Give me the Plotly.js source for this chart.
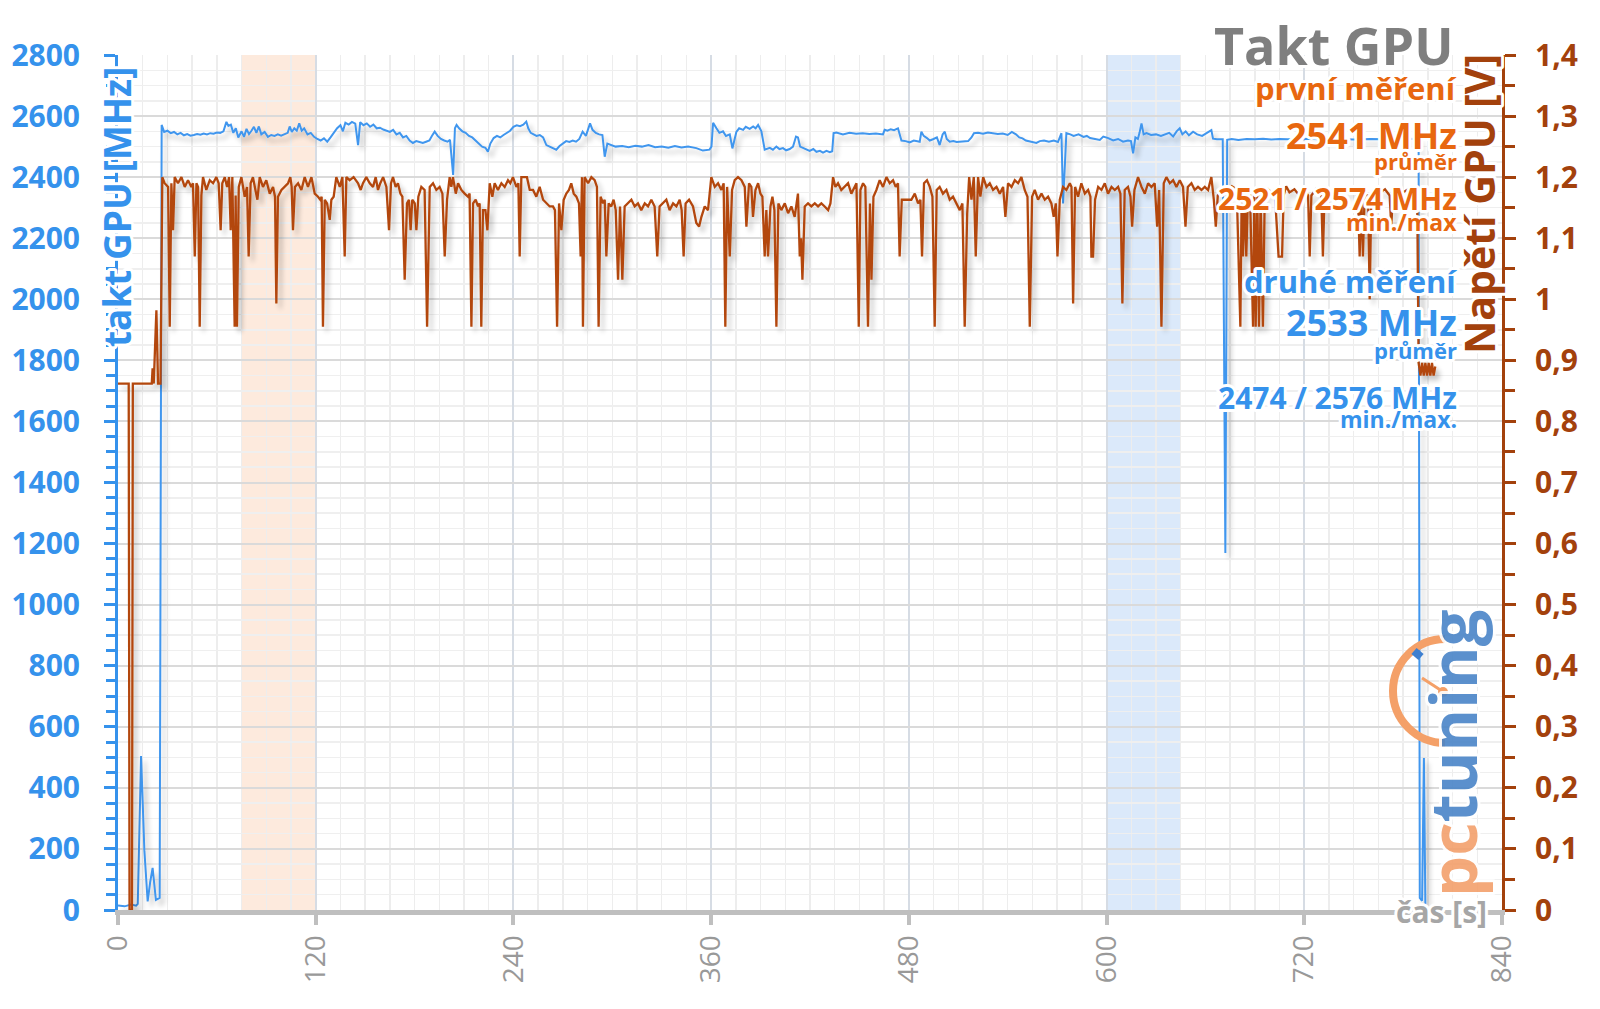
<!DOCTYPE html>
<html>
<head>
<meta charset="utf-8">
<script src="https://cdn.plot.ly/plotly-3.0.1.min.js"></script>
<style>
html,body{margin:0;padding:0;background:#fff;}
#chart{width:1600px;height:1009px;}
.annotation-text{paint-order:stroke;stroke:#ffffff;stroke-width:6px;stroke-linejoin:round;}
.scatterlayer .js-line{filter:url(#lineShadow);}
</style>
</head>
<body>
<svg width="0" height="0" style="position:absolute">
  <defs>
    <filter id="lineShadow" filterUnits="userSpaceOnUse" x="-200" y="-200" width="2200" height="1400">
      <feGaussianBlur in="SourceAlpha" stdDeviation="2.5"/>
      <feOffset dx="4" dy="5" result="ob"/>
      <feComponentTransfer><feFuncA type="linear" slope="0.22"/></feComponentTransfer>
      <feMerge><feMergeNode/><feMergeNode in="SourceGraphic"/></feMerge>
    </filter>
  </defs>
</svg>
<div id="chart"></div>
<script>
// ---- data: second measurement GPU clock [MHz] (left axis) ----
const clockTime = [
0,4,8,11,12,14,16,18,19.5,21,
23,25.3,26.5,28,30,32,34,36,38,40,
42,44,46,48,50,52,54,56,58,60,
62,64,65.8,67,68.5,70,71.5,73,75,76.5,
78,79.5,81,82.5,84,85.5,87,89,91,93,
95,97,99,101,103,104.2,105.5,107,108.5,110,
111.5,113,115,117,119,121,123,125,127,129,
131,133,135,136.5,138,140,142,144,145.7,147,
149,151,153,155,157,159,161,163,165,167,
169,171,173,175,177,179,181,183,185,187,
189,190.5,192.2,194,196,198,200,201.5,203.4,204.5,
205.5,207,209,211,213,215,217,219,221,223,
224.5,226,228,230,232,234,236,238,240,242,
244,246,247.8,249,250.5,252,254,256,258,260,
262,264,266,268,270,272,274,276,278,280,
282,284,286.5,288,290,292,294,295.4,297,299,
302,306,310,314,318,322,326,330,334,338,
342,346,351,355,359,360.2,361.2,363.2,365,367.2,
369,371.3,372.9,375.3,377,379.4,381,383.4,385.5,387,
388.5,390.5,392.5,395.6,397.5,399.6,401.5,403.6,405.5,407.7,
409.7,411.5,412.7,414,415.8,418,419.8,422,423.9,426,
427.9,430,432,433.5,434.3,436,440,444,448,452,
456,460,464.3,465.3,467,469,471,473.4,475.5,478,
480.5,483,486.6,487.6,489,491,492.7,495,497,498.7,
500.5,501.8,503,504.8,507,509,511,513,516,518,
519.5,522,525,528,531,534,537,540,542.5,545,
547,549,551,553,555,557.4,559.5,562,565,568,
570.5,572.6,573.6,575.6,578,580,583,586,588,590,
593,595.9,598,601,604,607,610,613,614.8,616.1,
617.5,619,620,621.2,622.5,624.2,627,630,633,636,
638,640.4,642.5,644.4,646,648,650,652.5,655,658,
661,663.6,664.6,667,670.5,672.1,673.2,676,680,685,
690,695,700,705,710,720,730,740,750,760,
770,780,789.4,790.1,791.5,792.6,793.5
];
const clockMHz = [
15,12,18,14,20,504,196,28,90,138,
33,40,2571,2548,2552,2544,2548,2540,2545,2537,
2541,2536,2538,2541,2539,2543,2540,2544,2542,2546,
2545,2550,2581,2568,2572,2545,2560,2530,2550,2532,
2558,2541,2552,2565,2545,2566,2540,2548,2532,2538,
2535,2540,2536,2540,2545,2566,2548,2560,2552,2576,
2552,2560,2540,2545,2532,2525,2520,2527,2516,2530,
2545,2560,2570,2550,2578,2572,2581,2575,2505,2580,
2570,2576,2565,2572,2560,2562,2556,2552,2548,2555,
2540,2545,2530,2535,2520,2512,2518,2515,2512,2516,
2520,2535,2549,2535,2525,2520,2516,2522,2407,2560,
2571,2560,2550,2545,2535,2530,2520,2510,2500,2496,
2483,2510,2528,2535,2530,2538,2545,2552,2565,2570,
2567,2572,2582,2560,2545,2540,2535,2538,2530,2505,
2500,2495,2490,2502,2510,2518,2515,2520,2516,2525,
2549,2535,2576,2555,2545,2540,2538,2467,2510,2505,
2500,2502,2498,2503,2500,2505,2498,2500,2496,2502,
2497,2500,2495,2487,2490,2500,2578,2560,2545,2550,
2535,2540,2494,2548,2560,2555,2565,2558,2566,2560,
2571,2550,2490,2496,2490,2500,2492,2495,2488,2492,
2500,2533,2530,2500,2495,2490,2486,2492,2483,2486,
2480,2486,2482,2485,2544,2546,2540,2545,2542,2544,
2541,2543,2540,2555,2552,2557,2554,2560,2520,2518,
2514,2520,2516,2549,2535,2528,2520,2525,2530,2505,
2540,2549,2525,2516,2518,2515,2516,2516,2518,2530,
2544,2545,2542,2546,2544,2541,2543,2538,2548,2540,
2530,2527,2520,2518,2515,2512,2518,2520,2516,2520,
2515,2544,2314,2544,2540,2535,2540,2532,2535,2528,
2525,2522,2533,2528,2520,2525,2516,2520,2518,2478,
2530,2525,2545,2576,2540,2544,2538,2540,2535,2540,
2545,2533,2550,2560,2540,2550,2537,2549,2540,2535,
2545,2554,2526,2524,2524,1169,2522,2525,2522,2525,
2524,2526,2523,2525,2524,2526,2524,2525,2523,2525,
2524,2526,2525,40,30,498,10
];

// ---- data: GPU voltage [V] (right axis) ----
const voltTime = [
0,6.5,7,8.5,9,20.5,21,21.7,23.3,24.3,
25.8,26.5,26.9,28.3,30.4,31.4,32.4,33.4,34.4,36.4,
38.5,40.5,42.5,44.5,45.5,46.6,47.6,48.6,49.6,50.6,
51.6,53.6,55.7,57.7,59.7,61.1,62.3,63.3,64.8,66.2,
67.4,68.4,69.4,70.8,71.4,72.2,73.3,74.9,76.9,78.3,
79.3,80.5,81.9,83.4,84.6,86,88,90,92.1,94.1,
95.3,96.1,97.1,99.2,101.2,103.2,104.6,105.4,106.2,107.4,
109.3,111.3,113.3,115.3,117.4,119.4,121.4,122.8,123.6,124.4,
125.5,126.9,128.5,129.5,130.9,132.5,134.6,136.2,137.6,138.6,
140.6,143,145.7,147.3,148.7,150.7,152.8,154.8,156.4,157.8,
159.2,160.9,162.9,164.5,165.7,166.9,168.5,169.9,171.4,172.6,
174,175.4,176.6,177.6,178.6,180.1,181.1,182.3,184.1,186.1,
187.6,189.2,191.2,193.2,195.2,196.9,198.3,199.7,201.3,202.3,
203.3,205,206.4,208.4,210.4,212.4,213.4,214.5,215.5,217.1,
218.5,219.5,220.5,221.5,223,224.2,225.6,227.2,228.6,230.6,
232.7,234.7,236.7,238.1,239.7,241.8,243,243.8,244.8,246.8,
248.2,249.9,251.9,253.9,255.9,258,260,262,264,265.2,
266.5,267.7,269.1,270.5,272.1,273.7,275.1,276.6,278.2,279.8,
280.8,281.6,282.2,283.2,285.3,287.3,289.3,290.7,291.7,292.9,
294.4,295.4,296.4,297.8,299.4,300.8,302.1,303.5,304.7,306.1,
307.5,309.5,311.6,313.6,315.6,317.6,319.7,321.7,323.7,325.7,
327.3,328.7,330.8,332.8,334.8,336.9,338.9,340.9,342.1,343.3,
344.5,346.6,349,351,352.7,354.1,356.1,358.1,360.1,362.2,
364.2,366.2,367.6,368.6,369.7,371.3,372.7,374.3,376.3,378.4,
380.4,381.4,383,384.4,385.4,386.9,388.5,389.9,391.1,392.5,
393.5,394.5,396,397.2,398.4,399.6,400.8,402.6,404.7,406.7,
408.7,410.7,412.7,413.8,414.6,415.4,416.8,418.8,420.8,422.9,
424.9,426.9,428.9,431,432.4,434,435.4,437,439,441.1,
443.1,445.1,447.1,448.2,449.6,450.6,452.2,453.6,455.2,456.4,
457.3,458.5,460.3,462.3,464.3,466.4,468.4,470.4,472,473.4,
474.4,475.7,478.5,481.5,483.6,485.6,487,488,489.2,491,
492.7,494.3,495.7,496.9,498.7,500.7,502.8,504.8,506.8,508.9,
510.9,512.5,513.9,515.4,516.6,518,519.4,520.6,522,523.4,
525.1,527.1,529.1,531.1,533.2,535.2,537.2,538.6,540.2,542.3,
544.3,546.3,548.3,550.3,552,553.4,554.8,556.4,558.4,560.5,
562.5,564.5,566.5,567.9,569.2,570.2,571.6,573.6,575.6,577.7,
578.7,579.7,580.9,582.7,584.7,586.8,588.8,590.2,590.8,591.8,
593,594.9,596.9,598.9,600.9,603,605,607,608.4,609.6,
611,613,614.5,615.5,616.9,619.1,621.2,623.2,625.2,627.2,
629.2,630.7,631.9,633.3,634.7,636.3,638.4,640.4,642.4,644.4,
646.4,647.9,649.3,651.5,653.5,655.5,657.6,659.6,661.6,663.6,
665.1,666.3,667.5,670,673,676,679,681.2,682,682.8,
683.8,684.8,685.8,687,688.9,689.7,690.5,691.5,692.5,693.5,
694.9,696,698,700,702,704.4,706.5,707.5,709,711,
714,717,720,722.3,723.3,724.3,727,730.3,731.3,732.3,
735,738,741,744,747,750,752.6,753.6,754.6,755.6,
756.6,758.7,759.7,760.7,763,766,769,771.8,772.8,773.8,
777,780,783,786,788.5,789.4,790.5,791.5,792.5,793.5,
794.5,795.5,796.5,797.5,798.5,799.5
];
const voltV = [
0.862,0.862,0,0,0.862,0.862,0.887,0.862,0.982,0.862,
0.862,1.2,1.2,1.19,1.184,0.955,1.19,1.113,1.2,1.19,
1.2,1.184,1.195,1.184,1.19,1.07,1.19,1.184,0.955,1.17,
1.2,1.179,1.195,1.19,1.2,1.19,1.113,1.19,1.2,1.184,
1.2,1.113,1.2,0.955,1.17,0.955,1.184,1.2,1.168,1.184,
1.07,1.19,1.2,1.179,1.163,1.2,1.184,1.195,1.173,1.184,
1.168,0.993,1.168,1.179,1.184,1.19,1.2,1.184,1.113,1.184,
1.19,1.179,1.2,1.184,1.2,1.173,1.168,1.163,1.168,0.955,
1.163,1.157,1.13,1.163,1.168,1.2,1.184,1.2,1.07,1.2,
1.195,1.2,1.19,1.179,1.19,1.2,1.19,1.184,1.2,1.179,
1.19,1.2,1.184,1.113,1.19,1.2,1.184,1.19,1.173,1.168,
1.032,1.157,1.163,1.113,1.163,1.157,1.113,1.168,1.184,1.179,
0.955,1.184,1.19,1.179,1.184,1.173,1.07,1.163,1.2,1.184,
1.2,1.173,1.19,1.179,1.173,1.168,1.173,0.955,1.157,1.163,
1.152,1.157,0.955,1.146,1.146,1.113,1.19,1.168,1.19,1.179,
1.19,1.184,1.195,1.19,1.2,1.184,1.19,1.07,1.2,1.2,
1.2,1.179,1.179,1.168,1.184,1.163,1.157,1.152,1.152,1.146,
0.955,1.157,1.113,1.163,1.173,1.179,1.19,1.173,1.168,1.157,
1.07,1.2,0.955,1.2,1.19,1.2,1.195,1.184,0.955,1.168,
1.157,1.163,1.07,1.157,1.152,1.163,1.146,1.032,1.152,1.032,
1.152,1.157,1.163,1.152,1.157,1.146,1.157,1.152,1.163,1.152,
1.07,1.152,1.157,1.163,1.146,1.157,1.152,1.163,1.146,1.07,
1.157,1.163,1.152,1.125,1.119,1.135,1.152,1.146,1.2,1.184,
1.19,1.179,1.19,0.955,1.184,1.07,1.179,1.195,1.2,1.195,
1.184,1.119,1.19,1.184,1.135,1.179,1.19,1.173,1.168,1.07,
1.146,1.07,1.152,1.168,1.146,0.955,1.157,1.146,1.157,1.141,
1.152,1.135,1.173,1.07,1.1,1.032,1.152,1.157,1.152,1.157,
1.152,1.157,1.152,1.146,1.157,1.2,1.184,1.19,1.179,1.184,
1.19,1.173,1.184,1.19,0.955,1.179,1.19,1.184,0.955,1.157,
1.032,1.168,1.179,1.195,1.184,1.2,1.19,1.195,1.184,1.19,
1.07,1.163,1.163,1.163,1.173,1.157,1.163,1.07,1.19,1.195,
1.184,1.168,0.955,1.179,1.184,1.173,1.179,1.163,1.168,1.157,
1.146,1.157,0.955,1.14,1.2,1.163,1.2,1.07,1.2,1.168,
1.2,1.184,1.19,1.179,1.184,1.173,1.184,1.135,1.19,1.184,
1.195,1.19,1.2,1.179,1.168,0.955,1.168,1.179,1.163,1.173,
1.163,1.168,1.157,1.135,1.157,1.07,1.163,1.184,1.179,1.19,
1.184,0.993,1.184,1.168,1.19,1.173,1.179,1.168,1.07,1.07,
1.163,1.184,1.179,1.19,1.173,1.184,1.179,1.184,1.173,0.993,
1.179,1.184,1.168,1.119,1.179,1.2,1.184,1.173,1.19,1.184,
1.19,1.119,1.179,0.955,1.19,1.2,1.19,1.195,1.184,1.195,
1.184,1.119,1.184,1.19,1.179,1.184,1.179,1.184,1.179,1.2,
1.163,1.119,1.17,1.18,1.175,1.185,1.18,0.955,1.17,1.07,
1.17,1.07,1.17,1.18,0.955,1.17,0.955,1.17,0.955,1.17,
0.955,1.17,1.18,1.175,1.18,1.07,1.07,1.17,1.185,1.175,
1.18,1.17,1.18,1.17,1.07,1.17,1.18,1.17,1.07,1.17,
1.18,1.175,1.18,1.17,1.18,1.175,1.17,1.07,1.17,1.07,
1.17,1.17,1.0,1.17,1.18,1.175,1.18,1.17,1.12,1.17,
1.18,1.175,1.18,1.17,1.175,0.896,0.875,0.896,0.875,0.896,
0.875,0.896,0.875,0.896,0.875,0.89
];

// ---- texts ----
const chartTitle = 'Takt GPU';
const leftTitle = 'takt GPU [MHz]';
const rightTitle = 'Napětí GPU [V]';
const xTitle = 'čas [s]';
const firstRun = ['první měření', '2541 MHz', 'průměr', '2521 / 2574 MHz', 'min./max'];
const secondRun = ['druhé měření', '2533 MHz', 'průměr', '2474 / 2576 MHz', 'min./max.'];
const highlightFirst = [75, 120];
const highlightSecond = [600, 645];

const BLUE = '#3592ec', BLUE_LINE = '#4096ee', BROWN = '#a3410c', BROWN_LINE = '#b3470d',
      ORANGE = '#e8670f', GRAY = '#7f7f7f';
const FONT = 'Open Sans, Liberation Sans, sans-serif';

const L = 118, R = 1502, T = 55, B = 910;
const px = X => (X - L) / (R - L);
const py = Y => (B - Y) / (B - T);

const traces = [
  {x: clockTime, y: clockMHz, type: 'scatter', mode: 'lines',
   line: {color: BLUE_LINE, width: 2}, yaxis: 'y', hoverinfo: 'skip'},
  {x: voltTime, y: voltV, type: 'scatter', mode: 'lines',
   line: {color: BROWN_LINE, width: 2.3}, yaxis: 'y2', hoverinfo: 'skip'}
];

function ann(text, X, Y, size, color, extra) {
  return Object.assign({text: text, xref: 'paper', yref: 'paper', x: px(X), y: py(Y),
    xanchor: 'right', yanchor: 'middle', showarrow: false,
    font: {family: FONT, size: size, color: color, weight: 700}}, extra || {});
}

const annotations = [
  ann(chartTitle, 1455, 45, 52, GRAY),
  ann(firstRun[0], 1459, 88, 31, ORANGE),
  ann(firstRun[1], 1459, 135, 36, ORANGE),
  ann(firstRun[2], 1459, 161, 22, ORANGE),
  ann(firstRun[3], 1459, 199, 30, ORANGE),
  ann(firstRun[4], 1459, 222, 23, ORANGE),
  ann(secondRun[0], 1459, 281, 31, BLUE),
  ann(secondRun[1], 1459, 322, 36, BLUE),
  ann(secondRun[2], 1459, 350, 22, BLUE),
  ann(secondRun[3], 1459, 397, 30, BLUE),
  ann(secondRun[4], 1459, 419, 23, BLUE),
  ann(leftTitle, 116, 207, 37, BLUE, {xanchor: 'center', textangle: -90}),
  ann(rightTitle, 1479, 204, 41, BROWN, {xanchor: 'center', textangle: -90}),
  ann(xTitle, 1489, 911, 30, '#a6a6a6'),
  ann('<span style="fill:#f3a06c">pc</span><span style="fill:#4a85c8">tuning</span>', 1452, 753, 65, '#4a85c8',
      {xanchor: 'center', textangle: -90, opacity: 0.9})
];

const shapes = [
  {type: 'rect', xref: 'x', yref: 'paper', x0: highlightFirst[0], x1: highlightFirst[1], y0: 0, y1: 1,
   fillcolor: '#fdeadd', line: {width: 0}, layer: 'below'},
  {type: 'rect', xref: 'x', yref: 'paper', x0: highlightSecond[0], x1: highlightSecond[1], y0: 0, y1: 1,
   fillcolor: '#dbe9fa', line: {width: 0}, layer: 'below'},
  // logo gauge
  {type: 'path', xref: 'paper', yref: 'paper', xsizemode: 'pixel', ysizemode: 'pixel',
   xanchor: px(1445), yanchor: py(691),
   path: 'M 0,52 C -28.7,52 -52,28.7 -52,0 C -52,-28.7 -28.7,-52 0,-52',
   line: {color: '#f4a068', width: 8}, fillcolor: 'rgba(0,0,0,0)', layer: 'above'},
  {type: 'path', xref: 'paper', yref: 'paper', xsizemode: 'pixel', ysizemode: 'pixel',
   xanchor: px(1445), yanchor: py(691),
   path: 'M -23,13 L -3,0',
   line: {color: '#f4a068', width: 3}, layer: 'above'},
  {type: 'circle', xref: 'paper', yref: 'paper', xsizemode: 'pixel', ysizemode: 'pixel',
   xanchor: px(1443), yanchor: py(692), x0: -5, x1: 5, y0: -5, y1: 5,
   fillcolor: '#f4a068', line: {width: 0}, layer: 'above'},
  {type: 'path', xref: 'paper', yref: 'paper', xsizemode: 'pixel', ysizemode: 'pixel',
   xanchor: px(1445), yanchor: py(691),
   path: 'M -31,40 L -24,34',
   line: {color: '#3d7fd0', width: 8}, layer: 'above'}
];

const layout = {
  width: 1600, height: 1009,
  margin: {l: L, r: 1600 - R, t: T, b: 1009 - B, pad: 0},
  paper_bgcolor: '#ffffff', plot_bgcolor: '#ffffff',
  showlegend: false,
  separators: ',.',
  font: {family: FONT},
  xaxis: {
    range: [0, 840], tick0: 0, dtick: 120, tickangle: -90,
    showgrid: true, gridcolor: '#d6dce4', gridwidth: 2,
    minor: {dtick: 15, showgrid: true, gridcolor: '#ededed', gridwidth: 1.5},
    showline: true, linecolor: '#bfbfbf', linewidth: 5,
    ticks: 'outside', ticklen: 10, tickwidth: 4, tickcolor: '#bfbfbf',
    tickfont: {family: FONT, size: 28, color: '#999999'},
    ticklabelstandoff: -1,
    zeroline: false, fixedrange: true
  },
  yaxis: {
    range: [0, 2800], tick0: 0, dtick: 200,
    showgrid: true, gridcolor: '#dadada', gridwidth: 2,
    minor: {dtick: 50, showgrid: true, gridcolor: '#efefef', gridwidth: 1.5,
            ticks: 'outside', ticklen: 9, tickwidth: 3, tickcolor: BLUE},
    showline: true, linecolor: BLUE, linewidth: 3,
    ticks: 'outside', ticklen: 11, tickwidth: 3, tickcolor: BLUE,
    tickfont: {family: FONT, size: 30, color: BLUE, weight: 700},
    ticklabelstandoff: 18,
    zeroline: false, fixedrange: true
  },
  yaxis2: {
    range: [0, 1.4], tick0: 0, dtick: 0.1, overlaying: 'y', side: 'right',
    showgrid: false,
    minor: {dtick: 0.05, ticks: 'outside', ticklen: 10, tickwidth: 3, tickcolor: BROWN},
    showline: true, linecolor: BROWN, linewidth: 3,
    ticks: 'outside', ticklen: 11, tickwidth: 3, tickcolor: BROWN,
    tickfont: {family: FONT, size: 30, color: BROWN, weight: 700},
    ticklabelstandoff: 13,
    zeroline: false, fixedrange: true
  },
  annotations: annotations,
  shapes: shapes
};

Plotly.newPlot('chart', traces, layout, {displayModeBar: false, staticPlot: true});
</script>
</body>
</html>
